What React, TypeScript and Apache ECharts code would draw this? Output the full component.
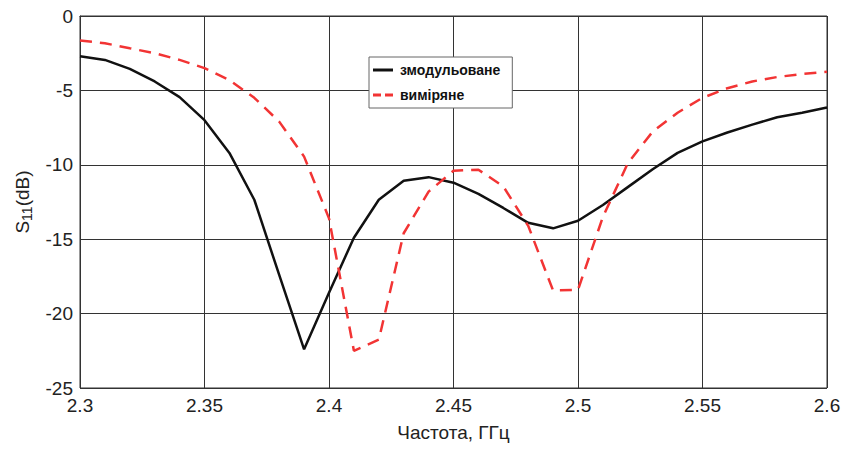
import React, { useEffect, useRef } from "react";
import * as echarts from "echarts";

const freq = [2.30, 2.31, 2.32, 2.33, 2.34, 2.35, 2.36, 2.37, 2.38, 2.39, 2.40, 2.41, 2.42, 2.43, 2.44, 2.45, 2.46, 2.47, 2.48, 2.49, 2.50, 2.51, 2.52, 2.53, 2.54, 2.55, 2.56, 2.57, 2.58, 2.59, 2.60];
const simulated = [-2.7, -2.95, -3.55, -4.4, -5.45, -7.0, -9.2, -12.35, -17.4, -22.4, -18.6, -14.9, -12.35, -11.07, -10.83, -11.2, -11.95, -12.9, -13.9, -14.27, -13.76, -12.7, -11.5, -10.3, -9.2, -8.43, -7.83, -7.3, -6.8, -6.5, -6.15];
const measured = [-1.65, -1.83, -2.17, -2.5, -2.95, -3.5, -4.3, -5.5, -7.1, -9.45, -13.6, -22.5, -21.75, -14.6, -11.8, -10.4, -10.33, -11.45, -14.1, -18.45, -18.4, -13.5, -9.9, -7.77, -6.5, -5.5, -4.85, -4.4, -4.1, -3.9, -3.75];
const seriesNames = ["змодульоване", "виміряне"];
const xTitle = "Частота, ГГц";

export default function App() {
  const ref = useRef<HTMLDivElement>(null);
  useEffect(() => {
    if (!ref.current) return;
    const chart = echarts.init(ref.current, null, { renderer: "svg" });
    const gridColor = "#333";
    const font = "Liberation Sans, Arial, sans-serif";
    const red = "#f23434";
    chart.setOption({
      animation: false,
      backgroundColor: "#fff",
      grid: { left: 80, right: 17, top: 16, bottom: 62, show: true, borderColor: gridColor, borderWidth: 1 },
      legend: {
        orient: "vertical",
        left: 369,
        top: 57,
        padding: [6, 12, 6, 4],
        itemGap: 11,
        itemWidth: 20,
        itemHeight: 3,
        backgroundColor: "#fff",
        borderColor: "#666",
        borderWidth: 1,
        textStyle: { fontFamily: "Liberation Sans Narrow, " + font, fontWeight: "bold", fontSize: 14, color: "#111", padding: [0, 0, 0, 2] },
        data: [
          { name: seriesNames[0], icon: "rect", itemStyle: { color: "#111" } },
          { name: seriesNames[1], icon: "path://M0,0H8V3H0Z M12,0H20V3H12Z", itemStyle: { color: red } },
        ],
      },
      xAxis: {
        type: "value",
        min: 2.3,
        max: 2.6,
        interval: 0.05,
        name: xTitle,
        nameLocation: "middle",
        nameGap: 35,
        nameTextStyle: { fontFamily: font, fontSize: 19, color: "#222" },
        axisLine: { lineStyle: { color: gridColor } },
        axisTick: { show: false },
        axisLabel: {
          fontFamily: font,
          fontSize: 19,
          color: "#222",
          margin: 8,
          formatter: (v: number) => String(parseFloat(v.toFixed(2))),
        },
        splitLine: { show: true, lineStyle: { color: gridColor, width: 1 } },
      },
      yAxis: {
        type: "value",
        min: -25,
        max: 0,
        interval: 5,
        name: "S{sub|11}(dB)",
        nameLocation: "middle",
        nameRotate: 90,
        nameGap: 46,
        nameTextStyle: {
          fontFamily: font,
          fontSize: 19,
          color: "#222",
          rich: {
            sub: { fontFamily: font, fontSize: 14, color: "#222", verticalAlign: "bottom", padding: [10, 0, 0, 0] },
          },
        },
        axisLine: { show: true, lineStyle: { color: gridColor } },
        axisTick: { show: false },
        axisLabel: { fontFamily: font, fontSize: 19, color: "#222", margin: 7 },
        splitLine: { show: true, lineStyle: { color: gridColor, width: 1 } },
      },
      series: [
        {
          name: seriesNames[0],
          type: "line",
          data: freq.map((f, i) => [f, simulated[i]]),
          symbol: "none",
          lineStyle: { color: "#111", width: 2.5 },
          itemStyle: { color: "#111" },
          z: 3,
        },
        {
          name: seriesNames[1],
          type: "line",
          data: freq.map((f, i) => [f, measured[i]]),
          symbol: "none",
          lineStyle: { color: red, width: 2.5, type: [12, 8] },
          itemStyle: { color: red },
          z: 4,
        },
      ],
    });
    return () => chart.dispose();
  }, []);
  return <div ref={ref} style={{ width: 844, height: 450, position: "absolute", left: 0, top: 0 }} />;
}
